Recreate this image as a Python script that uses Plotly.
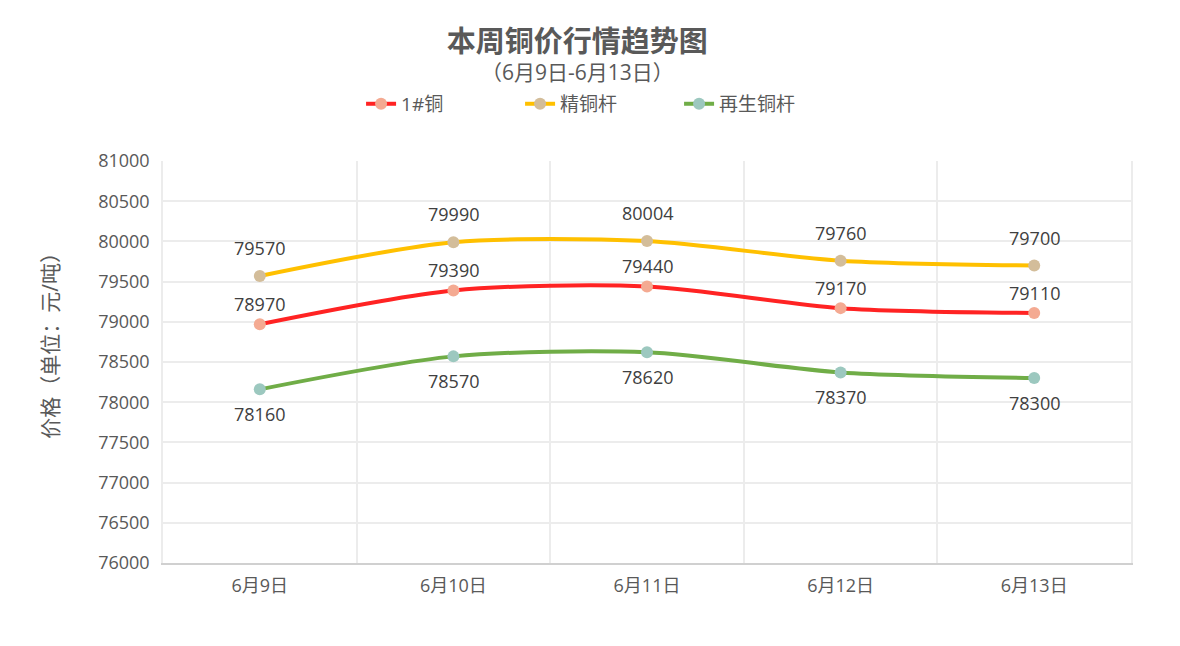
import plotly.graph_objects as go

# data
dates = ["6月9日", "6月10日", "6月11日", "6月12日", "6月13日"]
copper_1 = [78970, 79390, 79440, 79170, 79110]
copper_rod = [79570, 79990, 80004, 79760, 79700]
recycled_rod = [78160, 78570, 78620, 78370, 78300]

# name, values, line colour, marker colour, label shift (px)
series = [
    ("1#铜", copper_1, "#ff2323", "#f4aa92", 20),
    ("精铜杆", copper_rod, "#ffc000", "#d3bd9a", 28),
    ("再生铜杆", recycled_rod, "#70ad47", "#9cc8bf", -25),
]

FONT = "Open Sans, Noto Sans CJK SC, sans-serif"

fig = go.Figure()
notes = []
for name, vals, line_col, mk_col, shift in series:
    xs = list(range(len(dates)))
    fig.add_trace(
        go.Scatter(
            x=xs,
            y=vals,
            name=name,
            mode="lines+markers",
            line=dict(color=line_col, width=4, shape="spline", smoothing=0.8),
            marker=dict(color=mk_col, size=12),
            cliponaxis=False,
        )
    )
    for x, v in zip(xs, vals):
        notes.append(
            dict(
                x=x,
                y=v,
                xref="x",
                yref="y",
                text=str(v),
                showarrow=False,
                yshift=shift,
                font=dict(size=18, color="#404040", family=FONT),
            )
        )

# subtitle
notes.append(
    dict(
        text="（6月9日-6月13日）",
        xref="paper",
        yref="paper",
        x=0.428,
        y=1.221,
        xanchor="center",
        yanchor="middle",
        showarrow=False,
        font=dict(size=21, color="#595959", family=FONT),
    )
)
# y axis title (sits a little above the plot centre in the original)
notes.append(
    dict(
        text="价格（单位：元/吨）",
        xref="paper",
        yref="paper",
        x=-0.117,
        y=0.555,
        xanchor="center",
        yanchor="middle",
        textangle=-90,
        showarrow=False,
        font=dict(size=21, color="#595959", family=FONT),
    )
)

fig.update_layout(
    width=1164,
    height=630,
    paper_bgcolor="white",
    plot_bgcolor="white",
    font=dict(family=FONT, color="#595959"),
    margin=dict(l=155, r=41, t=153, b=75),
    title=dict(
        text="<b>本周铜价行情趋势图</b>",
        xref="container",
        x=0.489,
        xanchor="center",
        y=0.946,
        yanchor="middle",
        font=dict(size=29, color="#595959", family=FONT),
    ),
    annotations=notes,
    legend=dict(
        orientation="h",
        x=0.451,
        xanchor="center",
        y=1.142,
        yanchor="middle",
        font=dict(size=19, color="#595959", family=FONT),
        entrywidth=114,
    ),
    showlegend=True,
)

fig.update_xaxes(
    range=[-0.5, 4.5],
    tickmode="array",
    tickvals=list(range(len(dates))),
    ticktext=dates,
    showgrid=False,
    showline=True,
    linecolor="#d0d0d0",
    linewidth=1.5,
    ticks="",
    ticklabelstandoff=6,
    tickfont=dict(size=18, color="#595959"),
    minor=dict(
        tickmode="array",
        tickvals=[-0.5, 0.5, 1.5, 2.5, 3.5, 4.5],
        showgrid=True,
        gridcolor="#ececec",
        gridwidth=1.5,
    ),
    zeroline=False,
)
fig.update_yaxes(
    range=[76000, 81000],
    dtick=500,
    tickformat="d",
    showgrid=True,
    gridcolor="#ececec",
    gridwidth=1.5,
    showline=True,
    linecolor="#ececec",
    linewidth=1.5,
    mirror=True,
    zeroline=False,
    ticklabelstandoff=8,
    tickfont=dict(size=18, color="#595959"),
)

fig.write_html("out.html")
